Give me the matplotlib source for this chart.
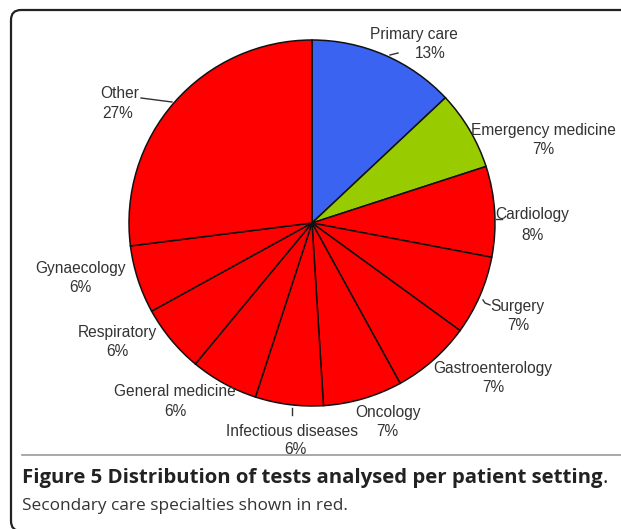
import matplotlib
matplotlib.use("Agg")
import matplotlib.pyplot as plt
from matplotlib.patches import FancyBboxPatch

# ---- data ----
categories = ["Primary care", "Emergency medicine", "Cardiology", "Surgery",
              "Gastroenterology", "Oncology", "Infectious diseases",
              "General medicine", "Respiratory", "Gynaecology", "Other"]
percent = [13, 7, 8, 7, 7, 7, 6, 6, 6, 6, 27]
slice_colors = ["#3a63f2", "#99cc00"] + ["#ff0000"] * 9
caption_bold = "Figure 5 Distribution of tests analysed per patient setting"
caption_rest = "Secondary care specialties shown in red."

W, H = 621, 529
fig = plt.figure(figsize=(W / 100, H / 100), dpi=100)
ax = fig.add_axes([0, 0, 1, 1])
ax.set_axis_off()

def Y(y):
    return H - y

cx, cy, r = 312, 223, 183
ax.pie(percent, colors=slice_colors, startangle=90, counterclock=False,
       center=(cx, Y(cy)), radius=r,
       wedgeprops=dict(edgecolor="#111111", linewidth=1.1))
ax.set_xlim(0, W)
ax.set_ylim(0, H)
ax.set_aspect("auto")

# label layout (pixel positions of name line and percent line)
label_pos = [
    ((414, 34), (430, 53)),
    ((543, 130), (543, 150)),
    ((532, 215), (532, 235)),
    ((517, 307), (518, 325)),
    ((493, 368), (493, 388)),
    ((388, 412), (387, 431)),
    ((292, 432), (295, 450)),
    ((175, 391), (175, 411)),
    ((117, 333), (117, 352)),
    ((80, 269), (80, 288)),
    ((120, 94), (118, 114)),
]
lab_font = dict(family=["Liberation Sans", "DejaVu Sans"], fontsize=11.2,
                color="#333333", ha="center", va="center")
for name, val, (p1, p2) in zip(categories, percent, label_pos):
    ax.text(p1[0], Y(p1[1]), name, **lab_font)
    ax.text(p2[0], Y(p2[1]), f"{val}%", **lab_font)

# leader lines
leaders = [
    [(390, 55), (398, 53)],
    [(496, 219), (502, 219)],
    [(292, 408), (292, 415)],
    [(141, 98), (172, 102)],
    [(483, 300), (485, 303), (490, 305)],
]
for pts in leaders:
    xs = [p[0] for p in pts]
    ys = [Y(p[1]) for p in pts]
    ax.plot(xs, ys, color="#333333", lw=1.0)

# frame
frame = FancyBboxPatch((11, Y(531)), 660, 521,
                       boxstyle="round,pad=0,rounding_size=10",
                       fill=False, edgecolor="#222222", lw=1.6,
                       clip_on=False)
ax.add_patch(frame)
ax.plot([22, W], [Y(455), Y(455)], color="#999999", lw=1.2)

# caption
cap_font = ["Open Sans", "DejaVu Sans"]
t1 = ax.text(22, Y(478), caption_bold, family=cap_font, fontweight="bold",
             fontsize=12.6, color="#222222", ha="left", va="center")
fig.canvas.draw()
bb = t1.get_window_extent()
fs = 12.6 * 584.0 / bb.width
t1.set_fontsize(fs)
fig.canvas.draw()
bb = t1.get_window_extent()
ax.text(22 + bb.width, Y(478), ".", family=cap_font,
        fontsize=fs, color="#222222", ha="left", va="center")
ax.text(22, Y(506), caption_rest, family=cap_font, fontsize=12.4,
        color="#333333", ha="left", va="center")

fig.savefig("out.png", dpi=100)
